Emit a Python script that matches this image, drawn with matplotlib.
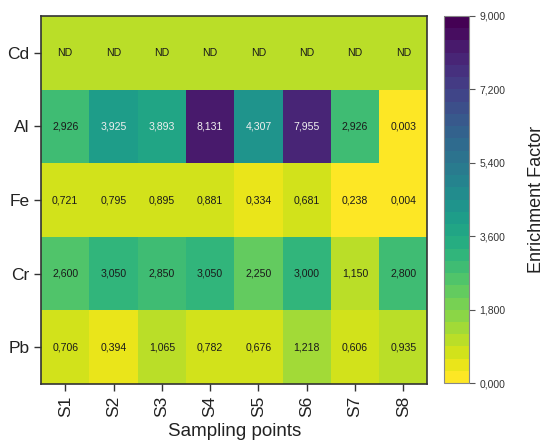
import numpy as np
import matplotlib
matplotlib.use('Agg')
import matplotlib.pyplot as plt
from matplotlib.colors import BoundaryNorm
from matplotlib.ticker import FuncFormatter, NullLocator

plt.rcParams['font.family'] = ['Liberation Sans', 'DejaVu Sans']

sites = ['S1', 'S2', 'S3', 'S4', 'S5', 'S6', 'S7', 'S8']
metals = ['Cd', 'Al', 'Fe', 'Cr', 'Pb']

# Cd was not detected; the cells are drawn with a filler value
cd = [1.0, 1.0, 1.0, 1.0, 1.0, 1.0, 1.0, 1.0]
al = [2.926, 3.925, 3.893, 8.131, 4.307, 7.955, 2.926, 0.003]
fe = [0.721, 0.795, 0.895, 0.881, 0.334, 0.681, 0.238, 0.004]
cr = [2.600, 3.050, 2.850, 3.050, 2.250, 3.000, 1.150, 2.800]
pb = [0.706, 0.394, 1.065, 0.782, 0.676, 1.218, 0.606, 0.935]
cd_detected = False

cbar_ticks = [0, 1.8, 3.6, 5.4, 7.2, 9.0]

data = np.array([cd, al, fe, cr, pb])

def fmt(v):
    return f"{v:.3f}".replace('.', ',')

fig = plt.figure(figsize=(5.48, 4.43), dpi=100)
ax = fig.add_axes([0.075, 0.133, 0.705, 0.831])
cax = fig.add_axes([0.81, 0.135, 0.046, 0.829])

levels = np.linspace(0, 9, 31)
cmap = plt.get_cmap('viridis_r', 30)
norm = BoundaryNorm(levels, cmap.N)

mesh = ax.pcolormesh(np.arange(len(sites) + 1), np.arange(len(metals) + 1), data,
                     cmap=cmap, norm=norm)
ax.set_xlim(0, len(sites))
ax.set_ylim(len(metals), 0)

for i, m in enumerate(metals):
    for j in range(len(sites)):
        v = data[i, j]
        if m == 'Cd' and not cd_detected:
            txt = 'ND'
        else:
            txt = fmt(v)
        col = '#f0f0f0' if v > 3.5 else '#1a1a1a'
        ax.text(j + 0.5, i + 0.5, txt, ha='center', va='center', fontsize=7.6, color=col)

ax.set_xticks(np.arange(len(sites)) + 0.5)
ax.set_xticklabels(sites, rotation=90, fontsize=12.5)
ax.set_yticks(np.arange(len(metals)) + 0.5)
ax.set_yticklabels(metals, fontsize=12.5)
ax.tick_params(length=5, width=1, color='#333333', labelcolor='#222222')
ax.set_xlabel('Sampling points', fontsize=13.5, labelpad=4, color='#222222')
for s in ax.spines.values():
    s.set_color('#333333')
    s.set_linewidth(1.2)

cb = fig.colorbar(mesh, cax=cax, ticks=cbar_ticks)
cb.ax.yaxis.set_minor_locator(NullLocator())
cb.outline.set_edgecolor('#888888')
cb.outline.set_linewidth(0.8)
cb.ax.yaxis.set_major_formatter(FuncFormatter(lambda v, p: fmt(v)))
cb.ax.tick_params(labelsize=7.5, length=4, width=0.8, color='#555555', labelcolor='#333333')
cb.set_label('Enrichment Factor', fontsize=13, labelpad=16, color='#222222')

fig.savefig('out.png', dpi=100)
